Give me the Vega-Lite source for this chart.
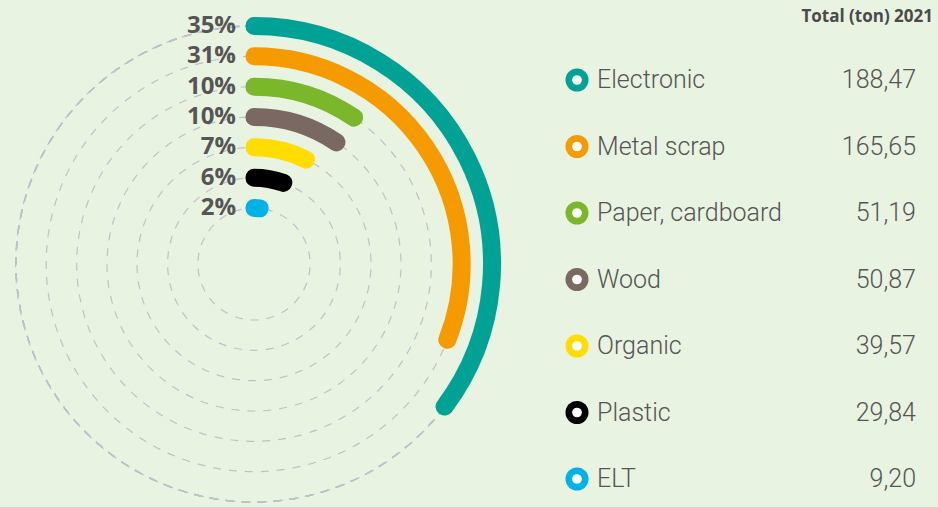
{
  "$schema": "https://vega.github.io/schema/vega-lite/v6.json",
  "background": "#e9f3e1",
  "padding": 0,
  "spacing": 0,
  "bounds": "flush",
  "config": {
    "view": {"stroke": null},
    "locale": {"number": {"decimal": ",", "thousands": ".", "grouping": [3], "currency": ["", " €"]}}
  },
  "datasets": {
    "waste": [
      {"category": "Electronic", "rank": 1, "tons": 188.47, "pct": "35%"},
      {"category": "Metal scrap", "rank": 2, "tons": 165.65, "pct": "31%"},
      {"category": "Paper, cardboard", "rank": 3, "tons": 51.19, "pct": "10%"},
      {"category": "Wood", "rank": 4, "tons": 50.87, "pct": "10%"},
      {"category": "Organic", "rank": 5, "tons": 39.57, "pct": "7%"},
      {"category": "Plastic", "rank": 6, "tons": 29.84, "pct": "6%"},
      {"category": "ELT", "rank": 7, "tons": 9.20, "pct": "2%"}
    ]
  },
  "hconcat": [
    {
      "width": 508,
      "height": 507,
      "data": {"name": "waste"},
      "layer": [
        {
          "mark": {"type": "arc", "filled": false, "stroke": "#c0c0ca", "strokeWidth": 1.2, "strokeDash": [8, 8], "yOffset": 10.5},
          "encoding": {
            "theta": {"datum": 0, "type": "quantitative", "scale": {"type": "linear", "domain": [0, 534.79], "range": [0, 6.283185307179586]}},
            "theta2": {"datum": 540},
            "radius": {"field": "rank", "type": "quantitative", "stack": null, "scale": {"type": "linear", "domain": [1, 7], "range": [238, 56]}}
          }
        },
        {
          "mark": {"type": "arc", "strokeWidth": 17, "strokeJoin": "round", "radiusOffset": 0.5, "radius2Offset": -0.5, "yOffset": 10.5},
          "encoding": {
            "theta": {"field": "tons", "type": "quantitative", "stack": null},
            "theta2": {"datum": 0},
            "radius": {"field": "rank", "type": "quantitative", "stack": null},
            "radius2": {"field": "rank"},
            "color": {
              "field": "category", "type": "nominal", "legend": null,
              "scale": {"domain": ["Electronic", "Metal scrap", "Paper, cardboard", "Wood", "Organic", "Plastic", "ELT"],
                        "range": ["#00a295", "#f59b00", "#7ab72b", "#7a6962", "#ffdd00", "#000000", "#00b3e6"]}
            },
            "stroke": {
              "field": "category", "type": "nominal", "legend": null,
              "scale": {"domain": ["Electronic", "Metal scrap", "Paper, cardboard", "Wood", "Organic", "Plastic", "ELT"],
                        "range": ["#00a295", "#f59b00", "#7ab72b", "#7a6962", "#ffdd00", "#000000", "#00b3e6"]}
            }
          }
        },
        {
          "mark": {"type": "text", "align": "right", "baseline": "middle", "dx": -18, "yOffset": 10.5, "font": "Open Sans", "fontWeight": "bold", "fontSize": 24, "color": "#555555"},
          "encoding": {
            "theta": {"datum": 0, "type": "quantitative"},
            "radius": {"field": "rank", "type": "quantitative", "stack": null},
            "text": {"field": "pct"}
          }
        }
      ]
    },
    {
      "width": 430,
      "height": 507,
      "layer": [
        {
          "data": {"name": "waste"},
          "mark": {"type": "point", "filled": true, "opacity": 1, "size": 531, "shape": "circle"},
          "encoding": {
            "x": {"value": 69},
            "y": {"field": "rank", "type": "quantitative", "axis": null, "scale": {"type": "linear", "domain": [1, 7], "range": [80, 479]}},
            "color": {
              "field": "category", "type": "nominal", "legend": null,
              "scale": {"domain": ["Electronic", "Metal scrap", "Paper, cardboard", "Wood", "Organic", "Plastic", "ELT"],
                        "range": ["#00a295", "#f59b00", "#7ab72b", "#7a6962", "#ffdd00", "#000000", "#00b3e6"]}
            }
          }
        },
        {
          "data": {"name": "waste"},
          "mark": {"type": "point", "filled": true, "opacity": 1, "size": 95, "shape": "circle", "color": "#ffffff"},
          "encoding": {
            "x": {"value": 69},
            "y": {"field": "rank", "type": "quantitative"}
          }
        },
        {
          "data": {"name": "waste"},
          "mark": {"type": "text", "align": "left", "baseline": "middle", "font": "Roboto", "fontWeight": 300, "fontSize": 25, "color": "#555555"},
          "encoding": {
            "x": {"value": 89},
            "y": {"field": "rank", "type": "quantitative"},
            "text": {"field": "category"}
          }
        },
        {
          "data": {"name": "waste"},
          "mark": {"type": "text", "align": "right", "baseline": "middle", "font": "Roboto", "fontWeight": 300, "fontSize": 25, "color": "#555555"},
          "encoding": {
            "x": {"value": 408},
            "y": {"field": "rank", "type": "quantitative"},
            "text": {"field": "tons", "type": "quantitative", "format": ".2f"}
          }
        },
        {
          "data": {"values": [{"header": "Total (ton) 2021"}]},
          "mark": {"type": "text", "align": "right", "baseline": "middle", "dy": 3, "font": "Open Sans", "fontWeight": "bold", "fontSize": 17, "color": "#4a4a4a"},
          "encoding": {
            "x": {"value": 425},
            "y": {"datum": 0, "type": "quantitative"},
            "text": {"field": "header"}
          }
        }
      ]
    }
  ]
}
